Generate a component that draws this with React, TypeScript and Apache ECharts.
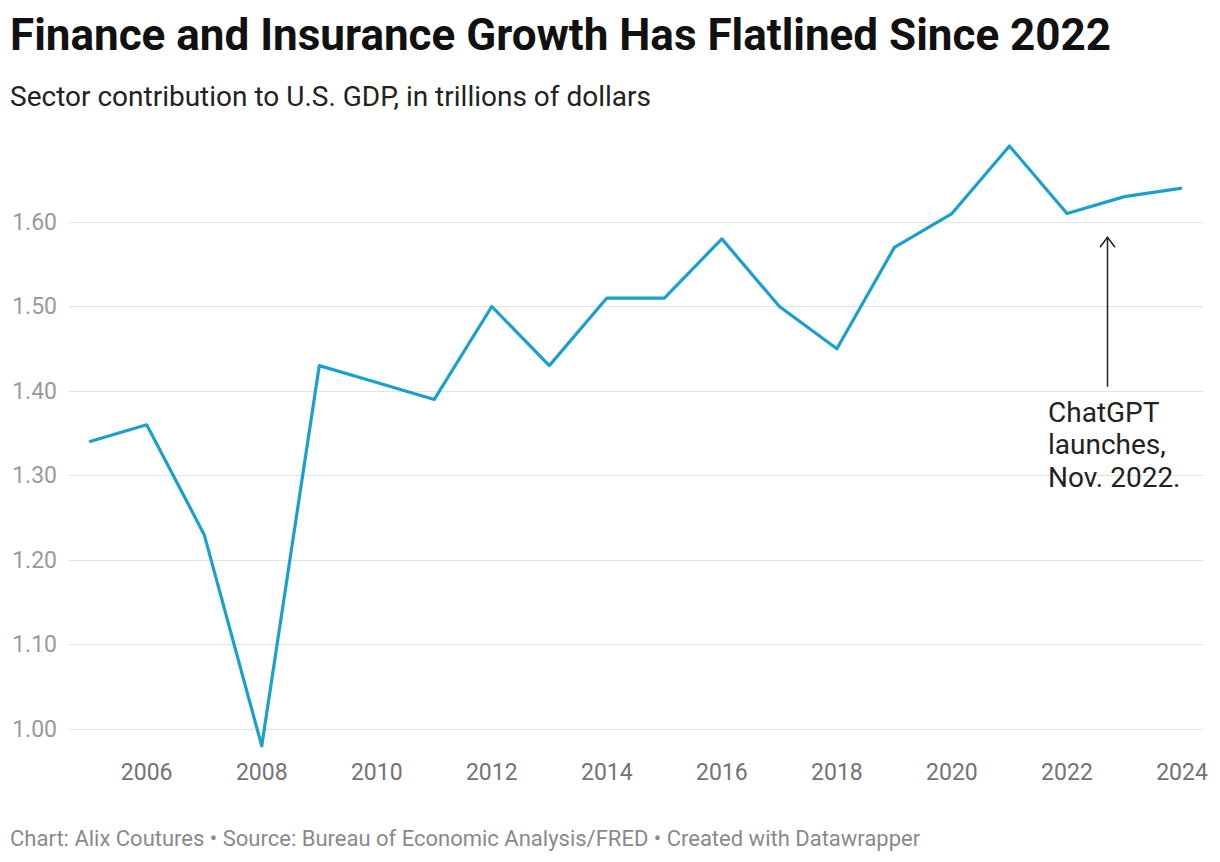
import React, { useEffect, useRef } from "react";
import * as echarts from "echarts";

const years = [2005, 2006, 2007, 2008, 2009, 2010, 2011, 2012, 2013, 2014, 2015, 2016, 2017, 2018, 2019, 2020, 2021, 2022, 2023, 2024];
const gdpTrillions = [1.34, 1.36, 1.23, 0.98, 1.43, 1.41, 1.39, 1.5, 1.43, 1.51, 1.51, 1.58, 1.5, 1.45, 1.57, 1.61, 1.69, 1.61, 1.63, 1.64];
const xTickYears = [2006, 2008, 2010, 2012, 2014, 2016, 2018, 2020, 2022, 2024];
const annotationLines = ["ChatGPT", "launches,", "Nov. 2022."];
const arrowX = 2022.69;
const arrowTop = 1.582;
const arrowBottom = 1.405;

const TITLE = "Finance and Insurance Growth Has Flatlined Since 2022";
const SUBTITLE = "Sector contribution to U.S. GDP, in trillions of dollars";
const FOOTER = "Chart: Alix Coutures • Source: Bureau of Economic Analysis/FRED • Created with Datawrapper";

export default function App() {
  const ref = useRef<HTMLDivElement>(null);
  useEffect(() => {
    document.body.style.margin = "0";
    const chart = echarts.init(ref.current!, null, { renderer: "svg" });
    const font = "Roboto";
    chart.setOption({
      animation: false,
      textStyle: { fontFamily: font },
      grid: { left: 69, right: 17, top: 137.5, bottom: 48.5, containLabel: false },
      xAxis: {
        type: "value",
        min: 2004.649,
        max: 2024.365,
        axisLine: { show: false },
        axisTick: { show: false },
        splitLine: { show: false },
        axisLabel: {
          customValues: xTickYears,
          margin: -53,
          fontSize: 23,
          color: "#737373",
          fontFamily: font,
          formatter: (v: number) => String(v),
        },
      },
      yAxis: {
        type: "value",
        min: 0.9,
        max: 1.7,
        interval: 0.1,
        axisLine: { show: false },
        axisTick: { show: false },
        splitLine: { show: true, showMinLine: false, showMaxLine: false, lineStyle: { color: "#e2e2e2", width: 1 } },
        axisLabel: {
          showMinLabel: false,
          showMaxLabel: false,
          margin: 12,
          fontSize: 23,
          color: "#9a9a9a",
          fontFamily: font,
          formatter: (v: number) => v.toFixed(2),
        },
      },
      series: [
        {
          type: "line",
          data: years.map((y, i) => [y, gdpTrillions[i]]),
          symbol: "none",
          lineStyle: { color: "#1aa0cc", width: 3.2, join: "round" },
          z: 3,
        },
      ],
    });

    const top = chart.convertToPixel({ gridIndex: 0 }, [arrowX, arrowTop]) as number[];
    const bot = chart.convertToPixel({ gridIndex: 0 }, [arrowX, arrowBottom]) as number[];
    const ax = Math.round(top[0]) + 0.5;

    chart.setOption({
      graphic: [
        {
          type: "text",
          left: 10,
          top: 13,
          style: { text: TITLE, fontFamily: font, fontWeight: "bold", fontSize: 44, fill: "#111" },
        },
        {
          type: "text",
          left: 10,
          top: 82.5,
          style: { text: SUBTITLE, fontFamily: font, fontSize: 28, fill: "#222" },
        },
        {
          type: "text",
          left: 10,
          top: 827.5,
          style: { text: FOOTER, fontFamily: font, fontSize: 22, fill: "#8a8a8a" },
        },
        {
          type: "line",
          shape: { x1: ax, y1: top[1], x2: ax, y2: bot[1] },
          style: { stroke: "#222", lineWidth: 1.5 },
        },
        {
          type: "polyline",
          shape: { points: [[ax - 7.5, top[1] + 10], [ax, top[1]], [ax + 7.5, top[1] + 10]] },
          style: { stroke: "#222", lineWidth: 1.5, fill: null },
        },
        {
          type: "text",
          x: 1048,
          y: 396,
          style: {
            text: annotationLines.join("\n"),
            fontFamily: font,
            fontSize: 28,
            lineHeight: 32.5,
            fill: "#222",
            verticalAlign: "top",
          },
        },
      ],
    });
    return () => chart.dispose();
  }, []);
  return <div ref={ref} style={{ position: "absolute", left: 0, top: 0, width: 1220, height: 862 }} />;
}
